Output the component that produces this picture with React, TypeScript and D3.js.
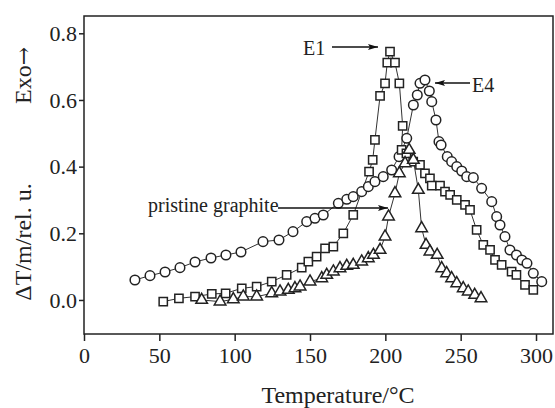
import React, { useEffect, useRef } from 'react';
import {
  select,
  scaleLinear,
  axisBottom,
  axisLeft,
  line,
  symbol,
  symbolCircle,
  symbolSquare,
  symbolTriangle,
  format
} from 'd3';

// E4 (circles): [temperature, value]
const e4Temp = [33.8, 43.8, 53.8, 63.7, 73.7, 84.3, 94.2, 104.2, 118.8, 129.4, 138.7, 147.8, 153.3, 158.8, 168.8, 174.4, 178.7, 184.3, 188.7, 193.1, 198.6, 204.2, 209.1, 214.2, 218.6, 221.2, 223, 226.3, 229.2, 230.8, 233.6, 235.6, 237, 241.1, 244, 247.4, 250.7, 254, 258.4, 263.9, 270.6, 273.9, 276.1, 279.4, 282.7, 287, 290.6, 294, 298.2, 303.8];
const e4Value = [0.06, 0.073, 0.084, 0.097, 0.114, 0.126, 0.135, 0.144, 0.175, 0.18, 0.205, 0.235, 0.245, 0.255, 0.29, 0.302, 0.31, 0.325, 0.34, 0.355, 0.37, 0.39, 0.43, 0.485, 0.585, 0.615, 0.65, 0.66, 0.627, 0.595, 0.54, 0.475, 0.465, 0.43, 0.415, 0.4, 0.387, 0.37, 0.367, 0.335, 0.295, 0.25, 0.225, 0.19, 0.15, 0.135, 0.12, 0.11, 0.08, 0.055];

// E1 (squares)
const e1Temp = [52.6, 63, 73.7, 84.8, 94, 104.7, 114.6, 124.6, 134.5, 144.5, 148.9, 154.4, 160, 165.5, 172.1, 178.7, 189.2, 191.6, 193.1, 196.5, 199.8, 201.3, 203.1, 206.4, 209.3, 211.5, 210.8, 214, 218.5, 223, 226.3, 229.6, 230.8, 236.3, 239.6, 243, 247.4, 252.9, 256.2, 260.6, 265, 269.5, 272.8, 277.2, 283.8, 287, 292.7, 298.2];
const e1Value = [-0.005, 0.005, 0.01, 0.018, 0.02, 0.035, 0.04, 0.055, 0.075, 0.097, 0.115, 0.13, 0.155, 0.16, 0.2, 0.255, 0.385, 0.42, 0.48, 0.612, 0.65, 0.712, 0.745, 0.712, 0.65, 0.522, 0.45, 0.44, 0.415, 0.405, 0.38, 0.365, 0.343, 0.343, 0.325, 0.315, 0.3, 0.285, 0.27, 0.21, 0.165, 0.15, 0.12, 0.105, 0.085, 0.075, 0.045, 0.03];

// pristine graphite (triangles)
const pgTemp = [78.1, 90.3, 99.1, 105.7, 114.6, 124.6, 130.1, 135.6, 140, 143.4, 150, 157.8, 161.1, 165.5, 169.9, 174.4, 178.7, 184.3, 188.7, 192.1, 196.5, 199.8, 202.1, 206.4, 209.3, 213.1, 215.8, 218.6, 221.9, 224.1, 227, 229.6, 234.4, 237.4, 240.7, 244, 247.4, 251.7, 255, 259.3, 263.5];
const pgValue = [0.0, -0.005, 0.002, 0.01, 0.01, 0.02, 0.025, 0.03, 0.035, 0.04, 0.055, 0.065, 0.075, 0.085, 0.095, 0.102, 0.105, 0.115, 0.125, 0.135, 0.15, 0.19, 0.25, 0.32, 0.38, 0.41, 0.45, 0.42, 0.33, 0.215, 0.165, 0.145, 0.135, 0.095, 0.08, 0.065, 0.05, 0.035, 0.025, 0.015, 0.005];

const xTicks = [0, 50, 100, 150, 200, 250, 300];
const yTicks = [0.0, 0.2, 0.4, 0.6, 0.8];

const font = '"Liberation Serif", "Times New Roman", serif';

export default function App() {
  const ref = useRef<SVGSVGElement>(null);

  useEffect(() => {
    const svg = select(ref.current);
    svg.selectAll('*').remove();

    const left = 84;
    const right = 553;
    const top = 16;
    const bottom = 334;

    const x = scaleLinear().domain([0, 311]).range([left, left + 311 * 1.5067]);
    const y = scaleLinear().domain([-0.1, 0.8]).range([333.3, 33.3]);

    // frame
    svg
      .append('rect')
      .attr('x', left)
      .attr('y', top)
      .attr('width', right - left)
      .attr('height', bottom - top)
      .attr('fill', 'none')
      .attr('stroke', '#222')
      .attr('stroke-width', 1.5);

    // x axis
    const gx = svg
      .append('g')
      .attr('transform', 'translate(0,' + bottom + ')')
      .call(axisBottom(x).tickValues(xTicks).tickSize(7).tickPadding(6).tickFormat(format('d')));
    gx.select('.domain').remove();
    gx.selectAll('line').attr('stroke', '#222').attr('stroke-width', 1.5);
    gx.selectAll('text')
      .attr('font-family', font)
      .attr('font-size', 22)
      .attr('fill', '#222');

    // y axis
    const gy = svg
      .append('g')
      .attr('transform', 'translate(' + left + ',0)')
      .call(axisLeft(y).tickValues(yTicks).tickSize(5).tickPadding(2).tickFormat(format('.1f')));
    gy.select('.domain').remove();
    gy.selectAll('line').attr('stroke', '#222').attr('stroke-width', 1.5);
    gy.selectAll('text')
      .attr('font-family', font)
      .attr('font-size', 22)
      .attr('fill', '#222');

    // axis titles
    svg
      .append('text')
      .attr('x', 338)
      .attr('y', 403)
      .attr('text-anchor', 'middle')
      .attr('font-family', font)
      .attr('font-size', 24)
      .attr('fill', '#222')
      .text('Temperature/°C');

    svg
      .append('text')
      .attr('transform', 'translate(31,242) rotate(-90)')
      .attr('text-anchor', 'middle')
      .attr('font-family', font)
      .attr('font-size', 24)
      .attr('fill', '#222')
      .text('ΔT/m/rel. u.');

    const exo = svg
      .append('text')
      .attr('transform', 'translate(31,104) rotate(-90)')
      .attr('text-anchor', 'start')
      .attr('font-family', font)
      .attr('font-size', 24)
      .attr('fill', '#222');
    exo.append('tspan').text('Exo');
    exo.append('tspan').attr('font-family', '"DejaVu Serif", serif').attr('font-size', 22).text('→');

    // arrow marker
    svg
      .append('defs')
      .append('marker')
      .attr('id', 'arr')
      .attr('viewBox', '0 0 10 6')
      .attr('refX', 10)
      .attr('refY', 3)
      .attr('markerWidth', 10)
      .attr('markerHeight', 6)
      .attr('markerUnits', 'userSpaceOnUse')
      .attr('orient', 'auto')
      .append('path')
      .attr('d', 'M0,0 L10,3 L0,6 L2,3 Z')
      .attr('fill', '#111');

    const series = [
      { temp: e4Temp, value: e4Value, shape: symbolCircle, size: 72 },
      { temp: e1Temp, value: e1Value, shape: symbolSquare, size: 68 },
      { temp: pgTemp, value: pgValue, shape: symbolTriangle, size: 58 }
    ];

    const lineGen = line<[number, number]>()
      .x(d => x(d[0]))
      .y(d => y(d[1]));

    series.forEach(s => {
      const pts: [number, number][] = s.temp.map((t, i) => [t, s.value[i]]);
      svg
        .append('path')
        .datum(pts)
        .attr('fill', 'none')
        .attr('stroke', '#333')
        .attr('stroke-width', 1)
        .attr('d', lineGen);
    });

    series.forEach(s => {
      const pts: [number, number][] = s.temp.map((t, i) => [t, s.value[i]]);
      svg
        .append('g')
        .selectAll('path')
        .data(pts)
        .join('path')
        .attr('transform', d => 'translate(' + x(d[0]) + ',' + y(d[1]) + ')')
        .attr('d', symbol().type(s.shape).size(s.size)())
        .attr('fill', 'white')
        .attr('stroke', '#222')
        .attr('stroke-width', 1.5);
    });

    // annotations
    const ann = (label: string, tx: number, ty: number, x1: number, y1: number, x2: number, y2: number) => {
      svg
        .append('line')
        .attr('x1', x1)
        .attr('y1', y1)
        .attr('x2', x2)
        .attr('y2', y2)
        .attr('stroke', '#111')
        .attr('stroke-width', 1.5)
        .attr('marker-end', 'url(#arr)');
      svg
        .append('text')
        .attr('x', tx)
        .attr('y', ty)
        .attr('font-family', font)
        .attr('font-size', 20)
        .attr('fill', '#222')
        .text(label);
    };
    ann('E1', 303, 55, 332, 47, 378, 47);
    ann('E4', 472, 92, 470, 83, 435, 83);
    ann('pristine graphite', 148, 212, 278, 208, 388, 208);
  }, []);

  return (
    <svg
      ref={ref}
      width={555}
      height={408}
      style={{ position: 'absolute', left: 0, top: 0, background: 'white' }}
    />
  );
}
